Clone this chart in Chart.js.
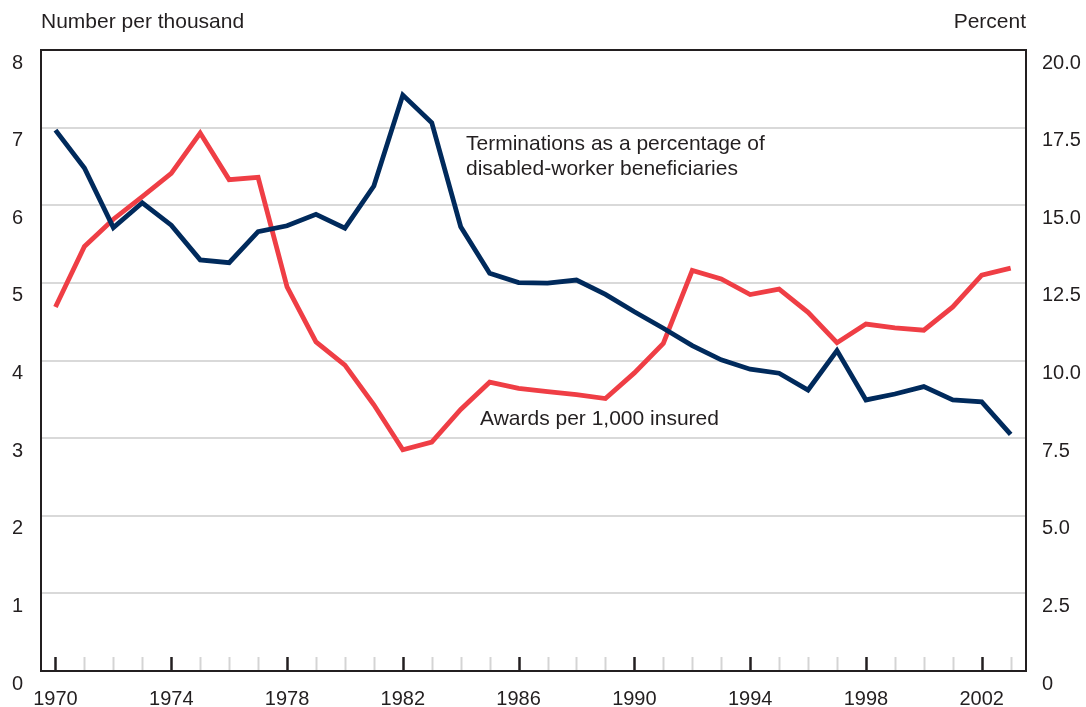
<!DOCTYPE html>
<html>
<head>
<meta charset="utf-8">
<script src="https://cdn.jsdelivr.net/npm/chart.js@4/dist/chart.umd.min.js"></script>
<style>
  html, body { margin: 0; padding: 0; background: #ffffff; }
  #wrap { width: 1086px; height: 707px; position: relative; }
</style>
</head>
<body>
<div id="wrap"><canvas id="c" width="1086" height="707"></canvas></div>
<script>
// ---- Data ----
const years = [1970,1971,1972,1973,1974,1975,1976,1977,1978,1979,1980,1981,1982,1983,1984,1985,1986,1987,1988,1989,1990,1991,1992,1993,1994,1995,1996,1997,1998,1999,2000,2001,2002,2003];
// Awards per 1,000 insured (left axis, number per thousand)
const awardsPerThousand = [4.69,5.47,5.82,6.11,6.41,6.93,6.33,6.36,4.95,4.24,3.94,3.43,2.85,2.95,3.37,3.72,3.64,3.60,3.56,3.51,3.84,4.22,5.16,5.05,4.85,4.92,4.62,4.23,4.47,4.42,4.39,4.69,5.10,5.19];
// Terminations as a percentage of disabled-worker beneficiaries (right axis, percent)
const terminationsPct = [17.42,16.2,14.28,15.08,14.36,13.24,13.15,14.15,14.34,14.71,14.26,15.62,18.55,17.66,14.31,12.81,12.51,12.49,12.59,12.13,11.57,11.04,10.48,10.02,9.72,9.59,9.05,10.32,8.73,8.92,9.16,8.73,8.67,7.62];
const xLabelYears = [1970,1974,1978,1982,1986,1990,1994,1998,2002];
const leftTicks = [0,1,2,3,4,5,6,7,8];
const rightTicks = [0,2.5,5,7.5,10,12.5,15,17.5,20];
const leftAxisTitle = 'Number per thousand';
const rightAxisTitle = 'Percent';
const termLabel = ['Terminations as a percentage of', 'disabled-worker beneficiaries'];
const awardsLabel = 'Awards per 1,000 insured';

const FONT = '"Liberation Sans", Arial, Helvetica, sans-serif';
const TEXT = '#231f20';
const NAVY = '#002a5c';
const RED = '#ef3e45';

const decorations = {
  id: 'decorations',
  beforeDatasetsDraw(chart) {
    const ctx = chart.ctx, a = chart.chartArea, x = chart.scales.x;
    ctx.save();
    // year tick marks, inward from bottom axis
    for (const yr of years) {
      const px = Math.round(x.getPixelForValue(yr)) + 0.5;
      const major = xLabelYears.includes(yr);
      ctx.strokeStyle = major ? '#231f20' : '#d4d4d4';
      ctx.lineWidth = major ? 2.5 : 2;
      ctx.beginPath();
      ctx.moveTo(px, a.bottom);
      ctx.lineTo(px, a.bottom - 14);
      ctx.stroke();
    }
    ctx.restore();
  },
  afterDatasetsDraw(chart) {
    const ctx = chart.ctx, a = chart.chartArea;
    ctx.save();
    ctx.strokeStyle = '#231f20';
    ctx.lineWidth = 2;
    ctx.strokeRect(a.left, a.top, a.right - a.left, a.bottom - a.top);
    ctx.fillStyle = TEXT;
    ctx.font = '21px ' + FONT;
    ctx.textBaseline = 'middle';
    ctx.textAlign = 'left';
    ctx.fillText(leftAxisTitle, 41, 22);
    ctx.textAlign = 'right';
    ctx.fillText(rightAxisTitle, 1026, 22);
    ctx.textAlign = 'left';
    ctx.fillText(termLabel[0], 466, 144);
    ctx.fillText(termLabel[1], 466, 169);
    ctx.fillText(awardsLabel, 480, 419);
    ctx.restore();
  }
};

new Chart(document.getElementById('c'), {
  type: 'line',
  data: {
    datasets: [
      {
        label: 'Terminations',
        data: years.map((y, i) => ({ x: y, y: terminationsPct[i] })),
        yAxisID: 'y2',
        borderColor: NAVY,
        borderWidth: 4.8,
        pointRadius: 0,
        tension: 0,
        borderJoinStyle: 'miter',
        fill: false
      },
      {
        label: 'Awards',
        data: years.map((y, i) => ({ x: y, y: awardsPerThousand[i] })),
        yAxisID: 'y',
        borderColor: RED,
        borderWidth: 4.8,
        pointRadius: 0,
        tension: 0,
        borderJoinStyle: 'miter',
        fill: false
      }
    ]
  },
  options: {
    responsive: false,
    animation: false,
    events: [],
    layout: { padding: { top: 50, left: 0, right: 0, bottom: 0 } },
    plugins: { legend: { display: false }, tooltip: { enabled: false } },
    scales: {
      x: {
        type: 'linear',
        min: 1969.5,
        max: 2003.53,
        afterFit(s) { s.height = 36; },
        afterBuildTicks(s) { s.ticks = xLabelYears.map(v => ({ value: v })); },
        grid: { display: false, drawTicks: false },
        border: { display: false },
        ticks: {
          padding: 16,
          color: TEXT,
          font: { family: FONT, size: 20 },
          callback: v => String(v),
          maxRotation: 0,
          autoSkip: false
        }
      },
      y: {
        position: 'left',
        min: 0,
        max: 8,
        afterFit(s) { s.width = 41; },
        afterBuildTicks(s) { s.ticks = leftTicks.map(v => ({ value: v })); },
        grid: { color: '#d9d9d9', lineWidth: 2, drawTicks: false },
        border: { display: false },
        ticks: {
          padding: 18,
          labelOffset: 13,
          color: TEXT,
          font: { family: FONT, size: 20 },
          callback: v => String(v)
        }
      },
      y2: {
        position: 'right',
        min: 0,
        max: 20,
        afterFit(s) { s.width = 60; },
        afterBuildTicks(s) { s.ticks = rightTicks.map(v => ({ value: v })); },
        grid: { display: false, drawTicks: false },
        border: { display: false },
        ticks: {
          padding: 16,
          labelOffset: 13,
          color: TEXT,
          font: { family: FONT, size: 20 },
          callback: v => (v === 0 ? '0' : v.toFixed(1))
        }
      }
    }
  },
  plugins: [decorations]
});
</script>
</body>
</html>
